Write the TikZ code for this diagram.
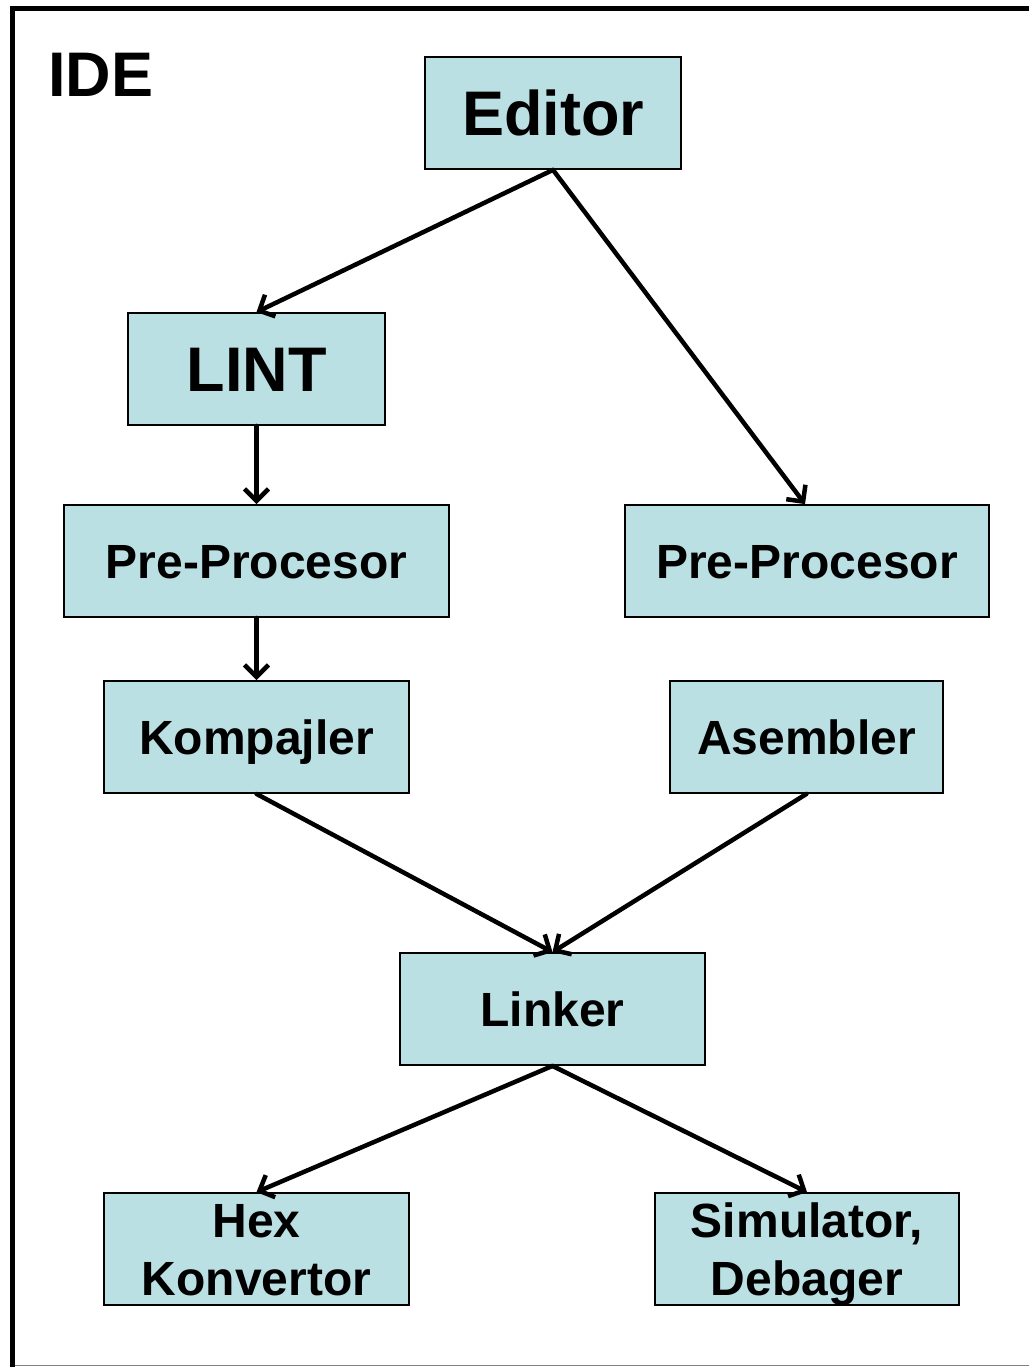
\documentclass[tikz,border=0pt]{standalone}
\usepackage{fontspec}
\setmainfont{Liberation Sans}
\usetikzlibrary{arrows.meta}
\definecolor{boxfill}{RGB}{187,224,227}
\begin{document}
\begin{tikzpicture}[x=1pt,y=-1pt,
  stage/.style={draw=black, line width=1.8pt, fill=boxfill, inner sep=0pt,
    minimum width=#1, minimum height=112pt, font=\bfseries\fontsize{48}{58}\selectfont,
    align=center, text height=34pt, text depth=0pt},
  twoline/.style={stage=#1, text height=92pt, text depth=0pt},
  bigstage/.style={stage=#1, font=\bfseries\fontsize{63}{76}\selectfont, text height=45pt},
  flow/.style={line width=4.5pt, -{Straight Barb[length=12pt,width=24pt]}, line cap=round}]
  \useasboundingbox (0,0) rectangle (1028,1367);
  % outer frame (open to the right)
  \draw[line width=5pt] (1040,8.5) -- (12.5,8.5) -- (12.5,1380);
  \draw[gray, line width=1.5pt] (15,1365.5) -- (1040,1365.5);
  \node[anchor=base west, font=\bfseries\fontsize{63}{76}\selectfont, inner sep=0pt] (ide) at (48,97) {IDE};

  \node[bigstage=256pt] (editor) at (553,113) {Editor};
  \node[bigstage=257pt] (lint) at (256.5,369) {LINT};
  \node[stage=385pt] (ppl) at (256.5,561) {Pre-Procesor};
  \node[stage=364pt] (ppr) at (807,561) {Pre-Procesor};
  \node[stage=305pt] (komp) at (256.5,737) {Kompajler};
  \node[stage=273pt] (asm) at (806.5,737) {Asembler};
  \node[stage=305pt] (link) at (552.5,1009) {Linker};
  \node[twoline=305pt] (hex) at (256.5,1249) {Hex\\Konvertor};
  \node[twoline=304pt] (sim) at (807,1249) {Simulator,\\Debager};

  \draw[flow] (editor.south) -- (lint.north);
  \draw[flow] (editor.south) -- ([xshift=-2pt]ppr.north);
  \draw[flow] (lint.south) -- (ppl.north);
  \draw[flow] (ppl.south) -- (komp.north);
  \draw[flow] (komp.south) -- (link.north);
  \draw[flow] (asm.south) -- (link.north);
  \draw[flow] (link.south) -- (hex.north);
  \draw[flow] (link.south) -- (sim.north);
\end{tikzpicture}
\end{document}
